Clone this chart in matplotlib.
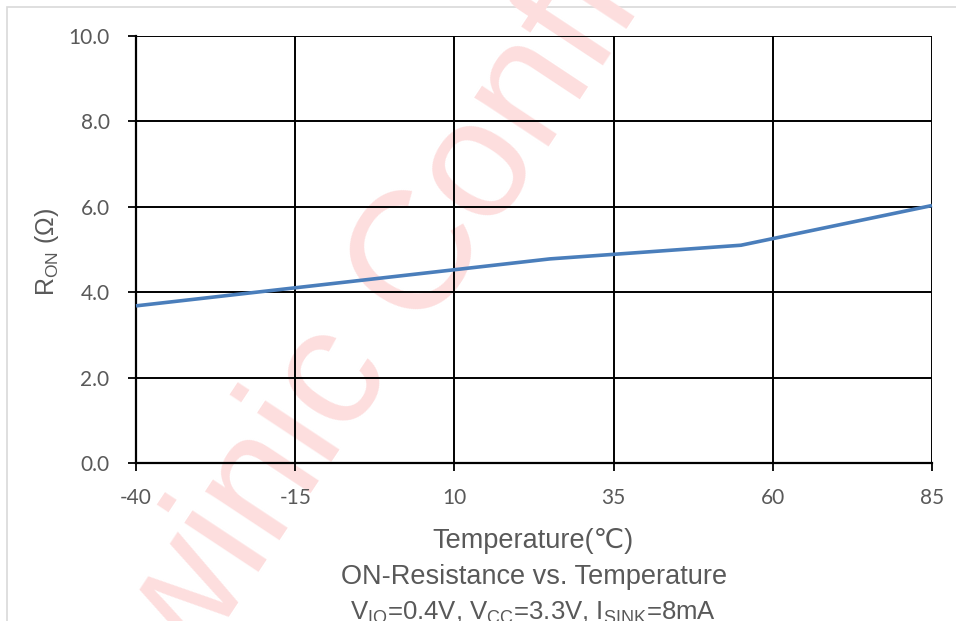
import numpy as np
import matplotlib
matplotlib.use("Agg")
import matplotlib.pyplot as plt
from matplotlib.patches import Rectangle

# ---- data ----
temperature = [-40, 25, 55, 85]
r_on = [3.68, 4.78, 5.10, 6.03]
x_ticks = [-40, -15, 10, 35, 60, 85]
y_ticks = [0.0, 2.0, 4.0, 6.0, 8.0, 10.0]

x_label = "Temperature(\u2103)"
title1 = "ON-Resistance vs. Temperature"
title2 = r"V$_{\mathregular{IO}}$=0.4V, V$_{\mathregular{CC}}$=3.3V, I$_{\mathregular{SINK}}$=8mA"
y_label = r"R$_{\mathregular{ON}}$ ($\mathregular{\Omega}$)"
watermark_a = "Awinic"
watermark_b = "Confidential"

plt.rcParams['mathtext.fontset'] = 'custom'
plt.rcParams['mathtext.rm'] = 'Liberation Sans'
plt.rcParams['mathtext.it'] = 'Liberation Sans:italic'
plt.rcParams['mathtext.bf'] = 'Liberation Sans:bold'

W, H, DPI = 956, 621, 100
fig = plt.figure(figsize=(W / DPI, H / DPI), dpi=DPI)
fig.patch.set_facecolor('white')

# outer light border
fig.add_artist(Rectangle((7 / W, -0.05), 1.2, 1 - 7 / H + 0.05, transform=fig.transFigure,
                         facecolor='none', edgecolor='#d9d9d9', linewidth=1.2, zorder=0))

# watermark
ang = 56.5
wm_size = 122
em = wm_size * DPI / 72.0
ux, uy = np.cos(np.radians(ang)), np.sin(np.radians(ang))
ax0, ay0 = 420 / W, 1 - 329 / H
wm_color = '#fddede'
fig.text(ax0, ay0, watermark_b, fontsize=wm_size, family='Liberation Sans', color=wm_color,
         rotation=ang, rotation_mode='anchor', ha='left', va='baseline', zorder=0.5)
sp = 0.278 * em
fig.text(ax0 - sp * ux / W, ay0 - sp * uy / H, watermark_a, fontsize=wm_size, family='Liberation Sans',
         color=wm_color, rotation=ang, rotation_mode='anchor', ha='right', va='baseline', zorder=0.5)

ax = fig.add_axes([136 / W, 1 - 463 / H, (932 - 136) / W, (463 - 36) / H])
ax.patch.set_alpha(0)
ax.set_zorder(2)

ax.plot(temperature, r_on, color='#4a7ebb', linewidth=2.6, solid_capstyle='butt', zorder=3, clip_on=False)

ax.set_xlim(-40, 85)
ax.set_ylim(0, 10)
ax.set_xticks(x_ticks)
ax.set_yticks(y_ticks)
ax.set_xticklabels([str(t) for t in x_ticks])
ax.set_yticklabels([f"{t:.1f}" for t in y_ticks])
ax.grid(True, color='black', linewidth=1.4)
ax.set_axisbelow(True)
for s in ['top', 'right']:
    ax.spines[s].set_visible(False)
for s in ['left', 'bottom']:
    ax.spines[s].set_linewidth(1.6)
    ax.spines[s].set_color('black')
ax.tick_params(axis='both', direction='out', length=6, width=1.3, color='black',
               labelsize=15, labelcolor='#595959')
ax.tick_params(axis='y', pad=13)
ax.tick_params(axis='x', pad=12)
for lab in ax.get_xticklabels() + ax.get_yticklabels():
    lab.set_family(['Lato', 'DejaVu Sans'])

fig.text(47 / W, 1 - 252 / H, y_label, fontsize=18, color='#595959', rotation=90,
         family=['Liberation Sans', 'DejaVu Sans'], ha='center', va='center')

fig.text(533 / W, 1 - 548 / H, x_label, fontsize=19.5, color='#595959',
         family=['Liberation Sans', 'DejaVu Sans'], ha='center', va='baseline')
fig.text(534 / W, 1 - 584 / H, title1, fontsize=19.5, color='#595959',
         family=['Liberation Sans', 'DejaVu Sans'], ha='center', va='baseline')
fig.text(533 / W, 1 - 620 / H, title2, fontsize=18.5, color='#595959',
         family=['Liberation Sans', 'DejaVu Sans'], ha='center', va='baseline')

fig.savefig('out.png', dpi=DPI, facecolor='white')
